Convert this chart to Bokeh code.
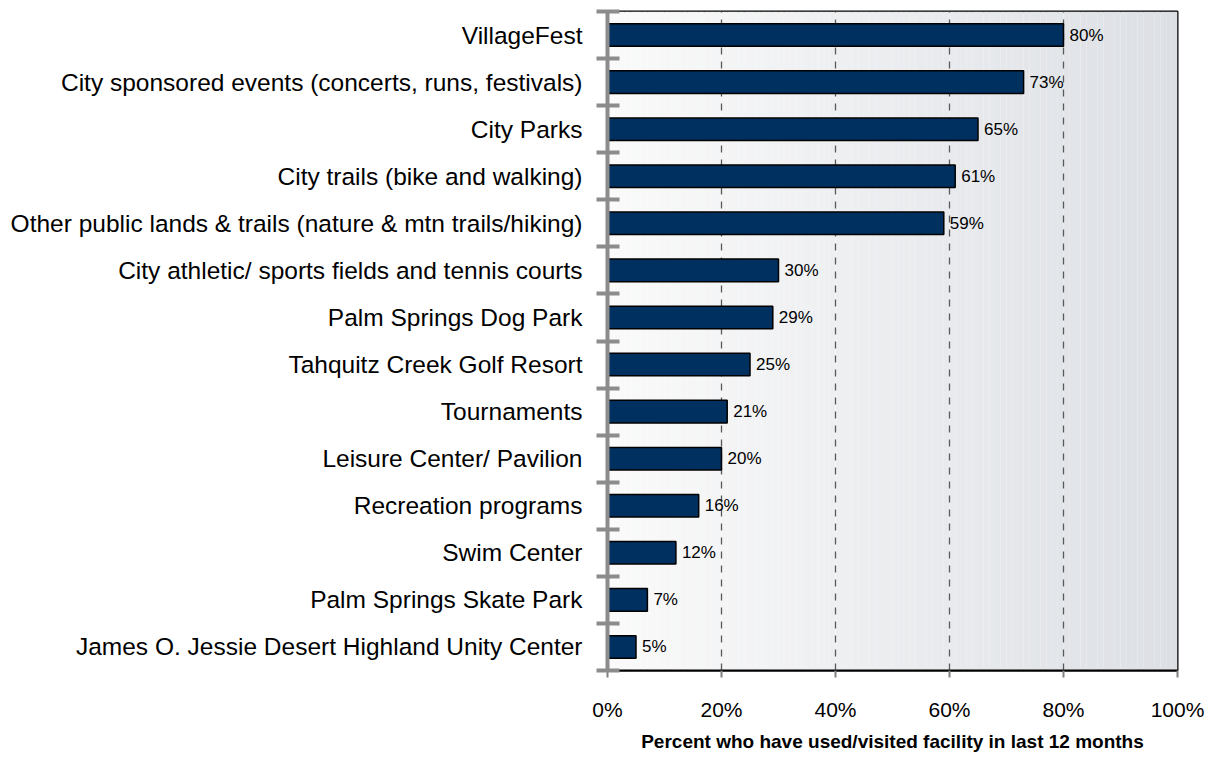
from bokeh.plotting import figure
from bokeh.models import Range1d, FixedTicker, ColumnDataSource
from bokeh.core.properties import value
from bokeh.embed import file_html
from bokeh.resources import INLINE

categories = [
    "VillageFest",
    "City sponsored events (concerts, runs, festivals)",
    "City Parks",
    "City trails (bike and walking)",
    "Other public lands & trails (nature & mtn trails/hiking)",
    "City athletic/ sports fields and tennis courts",
    "Palm Springs Dog Park",
    "Tahquitz Creek Golf Resort",
    "Tournaments",
    "Leisure Center/ Pavilion",
    "Recreation programs",
    "Swim Center",
    "Palm Springs Skate Park",
    "James O. Jessie Desert Highland Unity Center",
]
values = [80, 73, 65, 61, 59, 30, 29, 25, 21, 20, 16, 12, 7, 5]
value_labels = ["80%", "73%", "65%", "61%", "59%", "30%", "29%", "25%", "21%", "20%", "16%", "12%", "7%", "5%"]
x_ticks = [0, 20, 40, 60, 80, 100]
x_tick_labels = ["0%", "20%", "40%", "60%", "80%", "100%"]
x_title = "Percent who have used/visited facility in last 12 months"

FONT = "Liberation Sans"

n = len(categories)
ypos = [n - 1 - i for i in range(n)]

p = figure(width=1205, height=757,
           x_range=Range1d(0, 100), y_range=Range1d(-0.5, n - 0.5),
           output_backend="svg", toolbar_location=None,
           min_border_left=607, min_border_right=28,
           min_border_top=11, min_border_bottom=87,
           background_fill_color="white", border_fill_color="white")

# horizontal gradient background (styling only)
steps = 100
lefts = [100 * k / steps for k in range(steps)]
rights = [100 * (k + 1) / steps for k in range(steps)]
c0 = (250, 250, 250)
c1 = (220, 223, 228)
cols = []
for k in range(steps):
    t = (k + 0.5) / steps
    r, g, b = [round(a + (bb - a) * t) for a, bb in zip(c0, c1)]
    cols.append("#%02x%02x%02x" % (r, g, b))
bg = p.quad(left=lefts, right=rights, bottom=-0.5, top=n - 0.5,
            fill_color=cols, line_color=None)
bg.level = "image"

src = ColumnDataSource(dict(y=ypos, v=values, lab=value_labels))
p.hbar(y="y", right="v", left=0, height=0.48, source=src,
       fill_color="#00305f", line_color="black", line_width=1.5)
p.text(x="v", y="y", text="lab", source=src, x_offset=6,
       text_baseline="middle", text_align="left",
       text_font=value(FONT), text_font_size="17px", text_color="black")

# grid
p.ygrid.grid_line_color = None
p.xgrid.ticker = FixedTicker(ticks=x_ticks[1:-1])
p.xgrid.grid_line_color = "#5a5a5a"
p.xgrid.grid_line_dash = "7 7"
p.xgrid.grid_line_width = 1.3

p.outline_line_color = "black"
p.outline_line_width = 2

# y axis
ya = p.yaxis[0]
ya.ticker = FixedTicker(ticks=ypos, minor_ticks=[i - 0.5 for i in range(n + 1)])
ya.major_label_overrides = {y: c for y, c in zip(ypos, categories)}
ya.axis_line_color = "#8c8c8c"
ya.axis_line_width = 4
ya.major_tick_line_color = None
ya.major_tick_in = 0
ya.major_tick_out = 0
ya.minor_tick_line_color = "#8c8c8c"
ya.minor_tick_line_width = 4
ya.minor_tick_in = 12
ya.minor_tick_out = 11
ya.major_label_standoff = 14
ya.major_label_text_font = FONT
ya.major_label_text_font_size = "24.5px"
ya.major_label_text_color = "black"

# x axis
xa = p.xaxis[0]
xa.ticker = FixedTicker(ticks=x_ticks)
xa.major_label_overrides = {t: l for t, l in zip(x_ticks, x_tick_labels)}
xa.axis_line_color = "black"
xa.axis_line_width = 2
xa.major_tick_line_color = "#808080"
xa.major_tick_line_width = 2
xa.major_tick_in = 0
xa.major_tick_out = 7
xa.minor_tick_line_color = None
xa.major_label_standoff = 20
xa.major_label_text_font = FONT
xa.major_label_text_font_size = "21px"
xa.major_label_text_color = "black"
xa.axis_label = x_title
xa.axis_label_text_font = FONT
xa.axis_label_text_font_style = "bold"
xa.axis_label_text_font_size = "19px"
xa.axis_label_text_color = "black"
xa.axis_label_standoff = 7

open("out.html", "w").write(file_html(p, INLINE))
